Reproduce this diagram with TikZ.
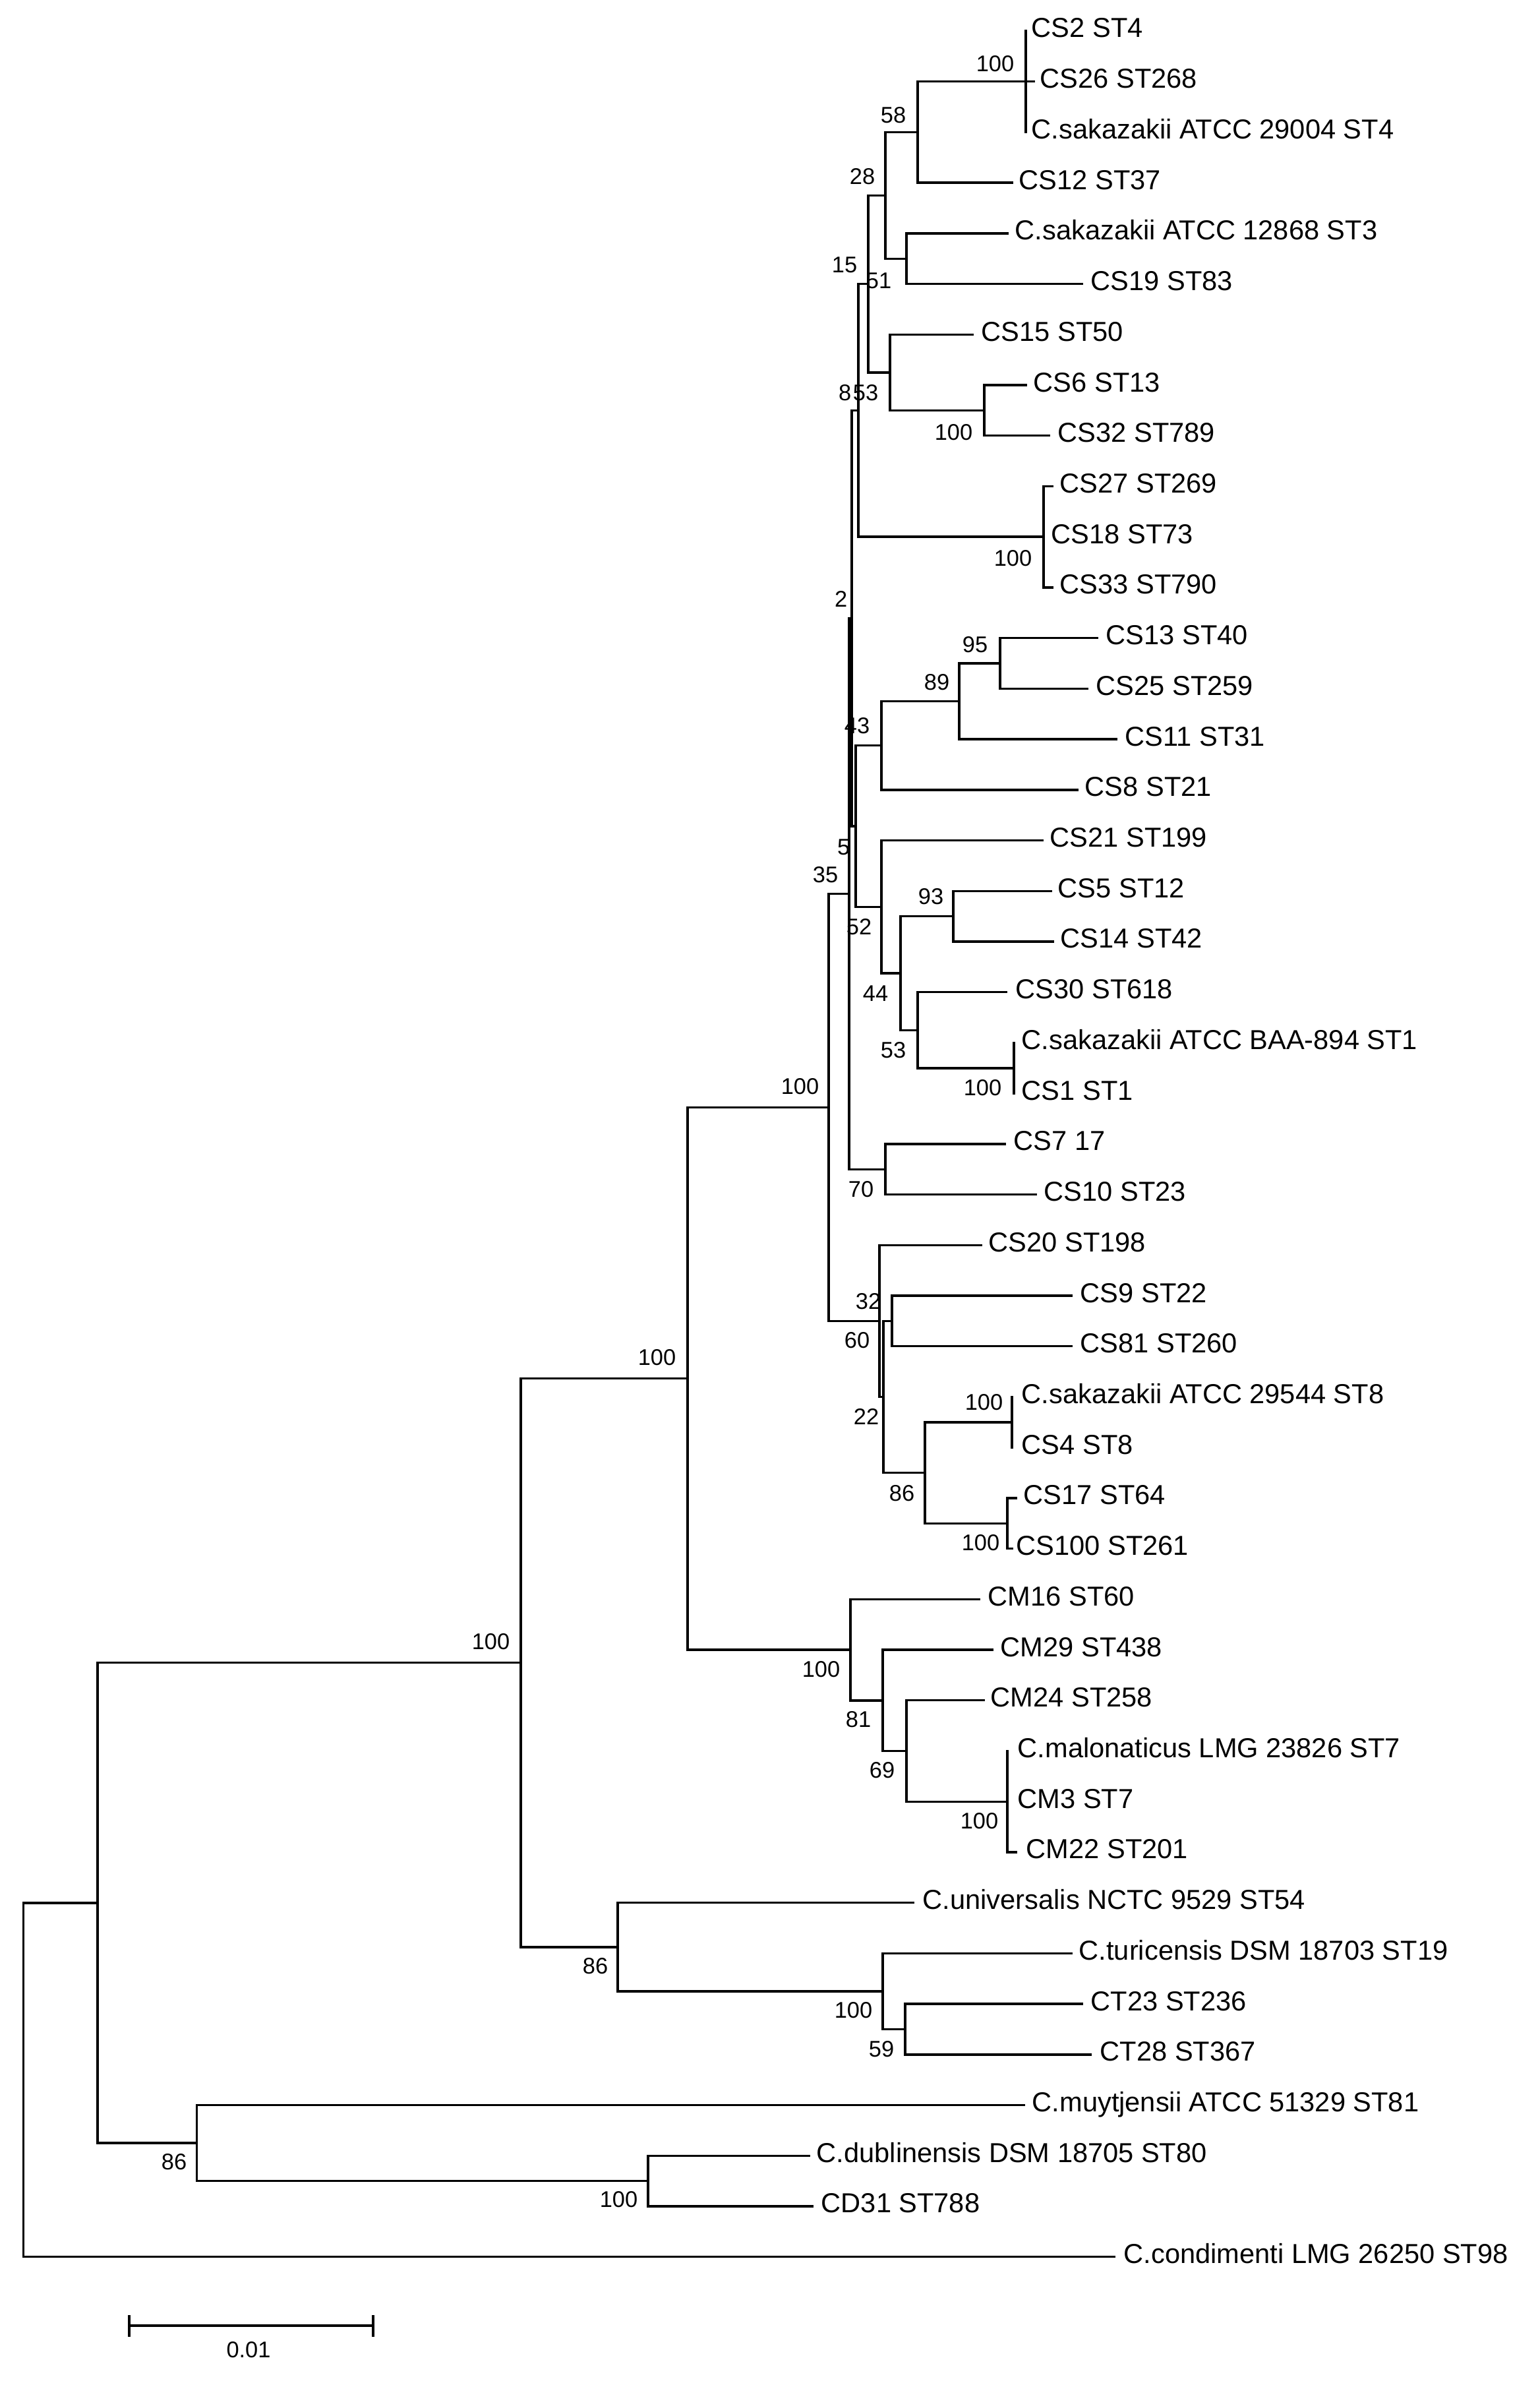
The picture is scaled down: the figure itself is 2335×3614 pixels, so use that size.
\documentclass[tikz,border=0pt]{standalone}
\usepackage{fontspec}
\setmainfont{Liberation Sans}
\begin{document}
\begin{tikzpicture}[x=0.25pt,y=-0.25pt,
  br/.style={line width=0.85pt, line cap=rect},
  lab/.style={font=\fontsize{10.4}{12}\selectfont, inner sep=0pt, anchor=base west},
  bs/.style={font=\fontsize{8.6}{10}\selectfont, inner sep=0pt, anchor=east}]
\fill[white] (0,0) rectangle (2335,3614);
\useasboundingbox (0,0) rectangle (2335,3614);
% leaf tips
\foreach \i/\tx in {1/1556,2/1568,3/1556,4/1535,5/1528,6/1641,7/1475,8/1556,9/1591,10/1596,
  11/1583,12/1596,13/1664,14/1649,15/1693,16/1634,17/1581,18/1594,19/1597,20/1526,
  21/1538,22/1538,23/1524,24/1571,25/1488,26/1625,27/1625,28/1535,29/1535,30/1541,
  31/1535,32/1485,33/1505,34/1492,35/1528,36/1528,37/1541,38/1385,39/1625,40/1641,
  41/1654,42/1553,43/1227,44/1232,45/1690}
  \coordinate (t\i) at (\tx,{47+(\i-1)*76.72});
% leaf labels
\foreach \i/\lx/\txt in {1/1564/{CS2 ST4},2/1577/{CS26 ST268},3/1564/{C.sakazakii ATCC 29004 ST4},
  4/1545/{CS12 ST37},5/1539/{C.sakazakii ATCC 12868 ST3},6/1654/{CS19 ST83},7/1488/{CS15 ST50},
  8/1567/{CS6 ST13},9/1604/{CS32 ST789},10/1607/{CS27 ST269},11/1594/{CS18 ST73},
  12/1607/{CS33 ST790},13/1677/{CS13 ST40},14/1662/{CS25 ST259},15/1706/{CS11 ST31},
  16/1645/{CS8 ST21},17/1592/{CS21 ST199},18/1604/{CS5 ST12},19/1608/{CS14 ST42},
  20/1540/{CS30 ST618},21/1549/{C.sakazakii ATCC BAA-894 ST1},22/1549/{CS1 ST1},
  23/1537/{CS7 17},24/1583/{CS10 ST23},25/1499/{CS20 ST198},26/1638/{CS9 ST22},
  27/1638/{CS81 ST260},28/1549/{C.sakazakii ATCC 29544 ST8},29/1549/{CS4 ST8},
  30/1552/{CS17 ST64},31/1541/{CS100 ST261},32/1498/{CM16 ST60},33/1517/{CM29 ST438},
  34/1502/{CM24 ST258},35/1543/{C.malonaticus LMG 23826 ST7},36/1543/{CM3 ST7},
  37/1556/{CM22 ST201},38/1399/{C.universalis NCTC 9529 ST54},
  39/1636/{C.turicensis DSM 18703 ST19},40/1654/{CT23 ST236},41/1668/{CT28 ST367},
  42/1565/{C.muytjensii ATCC 51329 ST81},43/1238/{C.dublinensis DSM 18705 ST80},
  44/1245/{CD31 ST788},45/1704/{C.condimenti LMG 26250 ST98}}
  \node[lab] (l\i) at (\lx,{47+(\i-1)*76.72+10}) {\txt};
% internal nodes
\coordinate (nP) at (1556,123.7);
\coordinate (nQ) at (1392,200.4);
\coordinate (nS) at (1375,392.3);
\coordinate (nR) at (1343,296.4);
\coordinate (nX) at (1493,622.4);
\coordinate (nU) at (1350,564.9);
\coordinate (nT) at (1317,430.6);
\coordinate (nY) at (1583,814.2);
\coordinate (nV) at (1302,622.5);
\coordinate (nAL) at (1517,1006.0);
\coordinate (nAK) at (1455,1063.6);
\coordinate (nAC) at (1337,1130.7);
\coordinate (nAN) at (1446,1389.6);
\coordinate (nAP) at (1538,1619.8);
\coordinate (nAO) at (1392,1562.2);
\coordinate (nAM) at (1366,1475.9);
\coordinate (nAD) at (1337,1375.2);
\coordinate (nAB) at (1298,1253.0);
\coordinate (nW) at (1292,937.7);
\coordinate (nAA) at (1343,1773.2);
\coordinate (nZ) at (1288,1355.5);
\coordinate (nAF) at (1353,2003.4);
\coordinate (nAI) at (1535,2156.8);
\coordinate (nAJ) at (1528,2310.3);
\coordinate (nAH) at (1403,2233.5);
\coordinate (nAG) at (1340,2118.4);
\coordinate (nAE) at (1334,2003.4);
\coordinate (nI) at (1257,1679.4);
\coordinate (nM) at (1528,2732.2);
\coordinate (nL) at (1375,2655.5);
\coordinate (nK) at (1339,2578.8);
\coordinate (nJ) at (1290,2502.0);
\coordinate (nE) at (1043,2090.7);
\coordinate (nH) at (1373,3077.5);
\coordinate (nG) at (1339,3019.9);
\coordinate (nF) at (937,2952.8);
\coordinate (nB) at (790,2521.7);
\coordinate (nD) at (983,3307.6);
\coordinate (nC) at (298.5,3250.0);
\coordinate (nA) at (148,2885.9);
\coordinate (nRoot) at (35.6,3154.3);
% branches
\foreach \p/\c in {nP/t1,nP/t2,nP/t3,nQ/nP,nQ/t4,nS/t5,nS/t6,nR/nQ,nR/nS,
  nX/t8,nX/t9,nU/t7,nU/nX,nT/nR,nT/nU,nY/t10,nY/t11,nY/t12,nV/nT,nV/nY,
  nAL/t13,nAL/t14,nAK/nAL,nAK/t15,nAC/nAK,nAC/t16,nAN/t18,nAN/t19,
  nAP/t21,nAP/t22,nAO/t20,nAO/nAP,nAM/nAN,nAM/nAO,nAD/t17,nAD/nAM,
  nAB/nAC,nAB/nAD,nW/nV,nW/nAB,nAA/t23,nAA/t24,nZ/nW,nZ/nAA,
  nAF/t26,nAF/t27,nAI/t28,nAI/t29,nAJ/t30,nAJ/t31,nAH/nAI,nAH/nAJ,
  nAG/nAF,nAG/nAH,nAE/t25,nAE/nAG,nI/nZ,nI/nAE,
  nM/t35,nM/t36,nM/t37,nL/t34,nL/nM,nK/t33,nK/nL,nJ/t32,nJ/nK,nE/nI,nE/nJ,
  nH/t40,nH/t41,nG/t39,nG/nH,nF/t38,nF/nG,nB/nE,nB/nF,
  nD/t43,nD/t44,nC/t42,nC/nD,nA/nB,nA/nC,nRoot/nA,nRoot/t45}
  \draw[br] (\p) |- (\c);
% bootstrap values
\foreach \nm/\bx/\by/\v in {P/1539/97/100,Q/1375/175/58,R/1328/268/28,S/1353/426/51,
  T/1301/402/15,U/1333/596/53,V/1292/596/8,X/1476/656/100,Y/1566/847/100,W/1286/908/2,
  AL/1499/978/95,AK/1441/1035/89,AC/1320/1101/43,AB/1290/1285/5,Z/1272/1327/35,
  AN/1432/1360/93,AD/1323/1406/52,AM/1348/1507/44,AO/1375/1593/53,AP/1520/1650/100,
  I/1243/1648/100,AA/1326/1804/70,AF/1337/1974/32,AE/1320/2033/60,AG/1334/2148/22,
  AI/1522/2127/100,AH/1388/2265/86,AJ/1517/2340/100,E/1026/2059/100,J/1275/2532/100,
  K/1322/2608/81,L/1358/2685/69,M/1515/2762/100,B/774/2490/100,F/923/2982/86,
  G/1324/3049/100,H/1357/3108/59,C/284/3279/86,D/968/3336/100}
  \node[bs] (b\nm) at (\bx,\by) {\v};
% scale bar
\coordinate (sbL) at (196,3527);
\coordinate (sbR) at (566,3527);
\coordinate (sbLt) at (196,3513);
\coordinate (sbLb) at (196,3542);
\coordinate (sbRt) at (566,3513);
\coordinate (sbRb) at (566,3542);
\draw[br] (sbL) -- (sbR);
\draw[br] (sbLt) -- (sbLb);
\draw[br] (sbRt) -- (sbRb);
\node[bs, anchor=center] (sbtxt) at (377,3564) {0.01};
\end{tikzpicture}
\end{document}
